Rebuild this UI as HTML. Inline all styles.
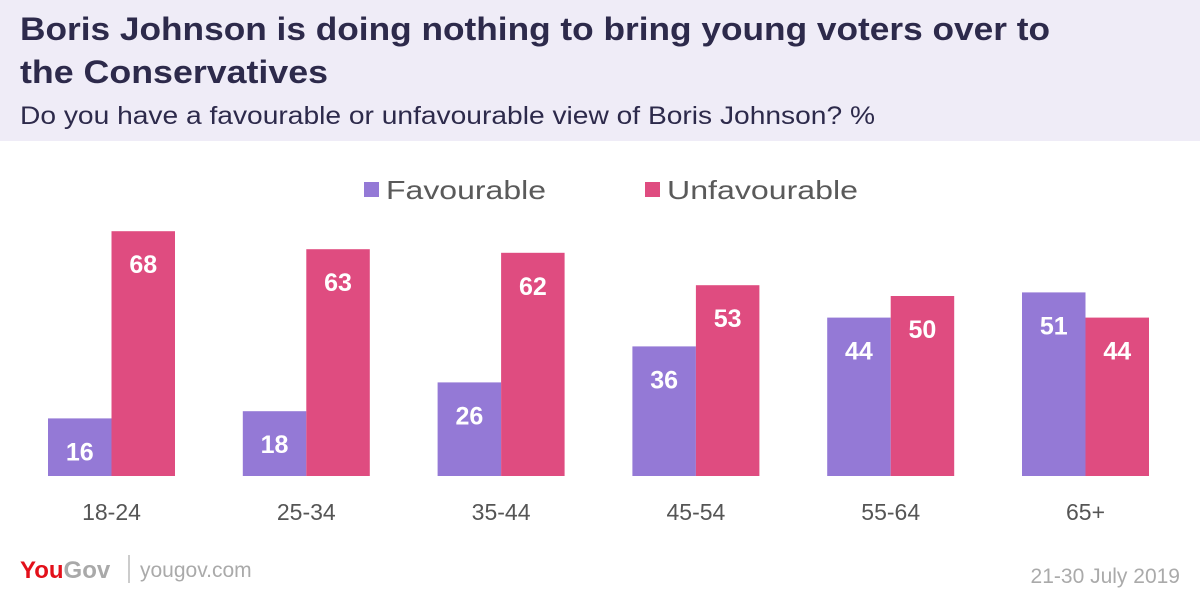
<!DOCTYPE html>
<html><head><meta charset="utf-8"><style>
body{margin:0;width:1200px;height:600px;overflow:hidden;background:#fff;font-family:"Liberation Sans",sans-serif}
</style></head><body>
<svg id="c" width="1200" height="600" xmlns="http://www.w3.org/2000/svg">
<rect x="0" y="0" width="1200" height="141" fill="#efecf7"/>
<text x="20" y="40" font-size="32" font-weight="bold" fill="#2d2a4b" textLength="1030" lengthAdjust="spacingAndGlyphs">Boris Johnson is doing nothing to bring young voters over to</text>
<text x="20" y="83" font-size="32" font-weight="bold" fill="#2d2a4b" textLength="308" lengthAdjust="spacingAndGlyphs">the Conservatives</text>
<text x="20" y="124" font-size="25" fill="#2d2a4b" textLength="855" lengthAdjust="spacingAndGlyphs">Do you have a favourable or unfavourable view of Boris Johnson? %</text>
<g>
<rect x="364" y="182" width="15" height="15" fill="#9479d6"/>
<text x="386" y="199" font-size="26" fill="#5a5a5a" textLength="160" lengthAdjust="spacingAndGlyphs">Favourable</text>
<rect x="645" y="182" width="15" height="15" fill="#df4c80"/>
<text x="667" y="199" font-size="26" fill="#5a5a5a" textLength="191" lengthAdjust="spacingAndGlyphs">Unfavourable</text>
</g>
<g id="bars"></g>
<text x="20" y="578" font-size="24" font-weight="bold" fill="#e3101a">You<tspan fill="#a9a9a9">Gov</tspan></text>
<line x1="129" y1="555" x2="129" y2="583" stroke="#bbb" stroke-width="1.5"/>
<text x="140" y="577" font-size="21" fill="#aaa">yougov.com</text>
<text x="1180" y="583" font-size="21" fill="#aaa" text-anchor="end">21-30 July 2019</text>
</svg>
<script>
const categories=["18-24","25-34","35-44","45-54","55-64","65+"];
const favourable=[16,18,26,36,44,51];
const unfavourable=[68,63,62,53,50,44];
const ns="http://www.w3.org/2000/svg";
const g=document.getElementById("bars");
const base=476,scale=3.6,x0=48,step=194.8,bw=63.5;
function y(v){return base-v*scale;}
function mk(t,a){const e=document.createElementNS(ns,t);for(const k in a)e.setAttribute(k,a[k]);g.appendChild(e);return e;}
categories.forEach((c,i)=>{
  const gx=x0+i*step;
  [[favourable[i],"#9479d6","favourable"],[unfavourable[i],"#df4c80","unfavourable"]].forEach((s,j)=>{
    const bx=gx+j*bw;
    const r=mk("rect",{x:bx,y:y(s[0]),width:bw,height:s[0]*scale,fill:s[1]});
    
    
    const vy=s[0]*scale>50?y(s[0])+42:y(s[0])-8;
    const t=mk("text",{x:bx+bw/2,y:vy,"text-anchor":"middle","font-size":"25","font-weight":"bold",fill:"#fff"});
    t.textContent=s[0];
    
    
  });
  const l=mk("text",{x:gx+bw,y:520,"text-anchor":"middle","font-size":"23",fill:"#555"});
  l.textContent=c;
  
  
});
</script>
</body></html>
